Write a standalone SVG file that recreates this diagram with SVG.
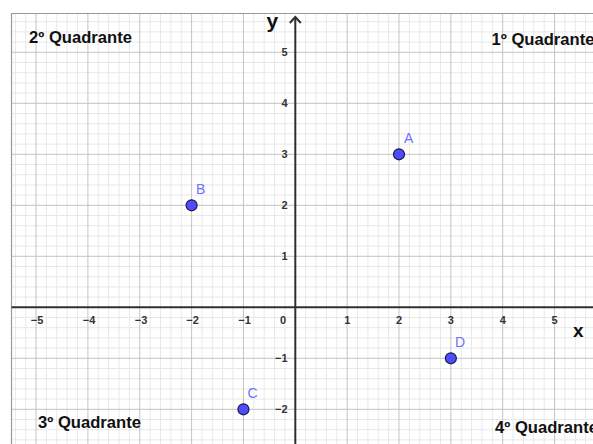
<svg xmlns="http://www.w3.org/2000/svg" width="593" height="444" viewBox="0 0 593 444">
<style>
.minor{stroke:#e8e8e8;stroke-width:1;fill:none}
.major{stroke:#c4c4c4;stroke-width:1;fill:none}
.axis{stroke:#303030;stroke-width:2;fill:none}
.tick{font-family:"Liberation Sans",Arial,sans-serif;font-size:11px;font-weight:bold;fill:#333}
.quad{font-family:"Liberation Sans",Arial,sans-serif;font-size:16.6px;font-weight:bold;fill:#111}
.axl{font-family:"Liberation Sans",Arial,sans-serif;font-weight:bold;fill:#111}
.pt{fill:#4d4dff;stroke:#1a1a40;stroke-width:1.2}
.plab{font-family:"Liberation Sans",Arial,sans-serif;font-size:14px;fill:#7070ff}
</style>
<rect x="0" y="0" width="593" height="444" fill="#fff"/>
<g id="grid">
<path class="minor" d="M15.31 13V444M25.68 13V444M46.42 13V444M56.79 13V444M67.16 13V444M77.53 13V444M98.27 13V444M108.64 13V444M119.01 13V444M129.38 13V444M150.12 13V444M160.49 13V444M170.86 13V444M181.23 13V444M201.97 13V444M212.34 13V444M222.71 13V444M233.08 13V444M253.82 13V444M264.19 13V444M274.56 13V444M284.93 13V444M305.67 13V444M316.04 13V444M326.41 13V444M336.78 13V444M357.52 13V444M367.89 13V444M378.26 13V444M388.63 13V444M409.37 13V444M419.74 13V444M430.11 13V444M440.48 13V444M461.22 13V444M471.59 13V444M481.96 13V444M492.33 13V444M513.07 13V444M523.44 13V444M533.81 13V444M544.18 13V444M564.92 13V444M575.29 13V444M585.66 13V444"/>
<path class="minor" d="M11.5 21.7H593M11.5 31.9H593M11.5 42.1H593M11.5 62.5H593M11.5 72.7H593M11.5 82.9H593M11.5 93.1H593M11.5 113.5H593M11.5 123.7H593M11.5 133.9H593M11.5 144.1H593M11.5 164.5H593M11.5 174.7H593M11.5 184.9H593M11.5 195.1H593M11.5 215.5H593M11.5 225.7H593M11.5 235.9H593M11.5 246.1H593M11.5 266.5H593M11.5 276.7H593M11.5 286.9H593M11.5 297.1H593M11.5 317.5H593M11.5 327.7H593M11.5 337.9H593M11.5 348.1H593M11.5 368.5H593M11.5 378.7H593M11.5 388.9H593M11.5 399.1H593M11.5 419.5H593M11.5 429.7H593M11.5 439.9H593"/>
<path class="major" d="M36.05 13V444M87.9 13V444M139.75 13V444M191.6 13V444M243.45 13V444M347.15 13V444M399 13V444M450.85 13V444M502.7 13V444M554.55 13V444"/>
<path class="major" d="M11.5 52.3H593M11.5 103.3H593M11.5 154.3H593M11.5 205.3H593M11.5 256.3H593M11.5 358.3H593M11.5 409.3H593"/>
<path d="M11.5 444V13.5H593" stroke="#999" stroke-width="1.2" fill="none"/>
</g>
<g id="axes">
<path class="axis" d="M11.5 307.3H593"/>
<path class="axis" d="M295.3 444V17"/>
<path d="M289.8 23L295.3 17L300.8 23" stroke="#303030" stroke-width="2" fill="none"/>
</g>
<g id="tick-labels">
<text class="tick" x="37" y="324" text-anchor="middle">−5</text>
<text class="tick" x="89" y="324" text-anchor="middle">−4</text>
<text class="tick" x="141" y="324" text-anchor="middle">−3</text>
<text class="tick" x="192.5" y="324" text-anchor="middle">−2</text>
<text class="tick" x="244.5" y="324" text-anchor="middle">−1</text>
<text class="tick" x="283" y="324" text-anchor="middle">0</text>
<text class="tick" x="347.2" y="324" text-anchor="middle">1</text>
<text class="tick" x="399" y="324" text-anchor="middle">2</text>
<text class="tick" x="450.9" y="324" text-anchor="middle">3</text>
<text class="tick" x="502.7" y="324" text-anchor="middle">4</text>
<text class="tick" x="554.5" y="324" text-anchor="middle">5</text>
<text class="tick" x="287.5" y="56.3" text-anchor="end">5</text>
<text class="tick" x="287.5" y="107.3" text-anchor="end">4</text>
<text class="tick" x="287.5" y="158.3" text-anchor="end">3</text>
<text class="tick" x="287.5" y="209.3" text-anchor="end">2</text>
<text class="tick" x="287.5" y="260.3" text-anchor="end">1</text>
<text class="tick" x="287.5" y="362.3" text-anchor="end">−1</text>
<text class="tick" x="287.5" y="413.3" text-anchor="end">−2</text>
<text class="axl" x="573" y="337" font-size="19">x</text>
<text class="axl" x="266.5" y="28" font-size="21">y</text>
</g>
<g id="quadrants">
<text class="quad" x="29" y="43">2º Quadrante</text>
<text class="quad" x="491.5" y="45">1º Quadrante</text>
<text class="quad" x="38" y="428">3º Quadrante</text>
<text class="quad" x="495" y="433">4º Quadrante</text>
</g>
<g id="A"><circle class="pt" cx="399" cy="154.3" r="5.5"/><text class="plab" x="404" y="143">A</text></g>
<g id="B"><circle class="pt" cx="191.6" cy="205.3" r="5.5"/><text class="plab" x="196" y="194">B</text></g>
<g id="C"><circle class="pt" cx="243.45" cy="409.3" r="5.5"/><text class="plab" x="247.5" y="398">C</text></g>
<g id="D"><circle class="pt" cx="450.85" cy="358.3" r="5.5"/><text class="plab" x="455" y="347">D</text></g>
</svg>
